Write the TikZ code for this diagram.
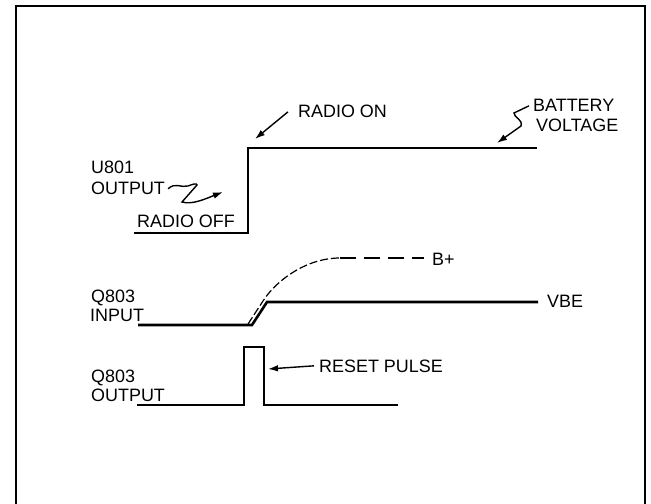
\documentclass[tikz,border=0pt]{standalone}
\usepackage{fontspec}
\setmainfont{Liberation Sans}
\usetikzlibrary{arrows.meta,positioning,calc}

\begin{document}
\begin{tikzpicture}[x=1bp,y=-1bp,
        signal/.style={line width=2.6bp,line join=miter},
        lbl/.style={inner sep=0pt,anchor=base west,font=\fontsize{18}{18}\selectfont},
        ptr/.style={line width=1.4bp,-{Latex[length=10bp,width=6.5bp]}}]
    \useasboundingbox (0,0) rectangle (651,504);
    \draw [line width=2.8bp] (16,504) -- (16,6) -- (645,6) -- (645,504);

    % U801 output
    \draw [signal] (134,233) -- (248,233) -- (248,148) -- (537,148);
    \node [lbl] (u801) at (91,174) {U801};
    \node [lbl] (u801out) at (91,195) {OUTPUT};
    \node [lbl] (off) at (137,228) {RADIO OFF};
    \node [lbl] (on) at (298,118) {RADIO ON};
    \node [lbl] (bat) at (533,112) {BATTERY};
    \node [lbl] (volt) at (536,132) {VOLTAGE};
    \coordinate (ontip) at (255,139);
    \coordinate (offtip) at (223,192);
    \coordinate (battip) at (497,143);
    \draw [ptr] ([xshift=-10bp]on.west) -- (ontip);
    \draw [ptr] ([xshift=-4bp]bat.west) -- (514,113)
        .. controls (514,118) and (523,119) .. (521,126) -- (battip);
    \draw [ptr] ([xshift=3bp]u801out.east) .. controls (175,182) and (181,188) .. (188,186)
        .. controls (193,184) and (197,183) .. (197,185) -- (182,202)
        .. controls (192,205) and (205,199) .. (offtip);

    % Q803 input
    \draw [signal] (138,325) -- (252,325) -- (267,302) -- (538,302);
    \draw [line width=1.2bp,dash pattern=on 8bp off 3bp] (248,324) -- (263,301)
        .. controls (275,282) and (305,258) .. (340,258);
    \draw [line width=1.6bp,dash pattern=on 16bp off 8bp] (340,258) -- (424,258);
    \node [lbl] (q803a) at (91,302) {Q803};
    \node [lbl] (q803in) at (90,321) {INPUT};
    \node [lbl] (bplus) at (432,265) {B+};
    \node [lbl] (vbe) at (547,307) {VBE};

    % Q803 output
    \draw [signal] (137,405) -- (244,405) -- (244,347) -- (264,347) -- (264,405) -- (398,405);
    \node [lbl] (q803b) at (91,382) {Q803};
    \node [lbl] (q803out) at (91,401) {OUTPUT};
    \node [lbl] (rst) at (319,372) {RESET PULSE};
    \coordinate (rsttip) at (268,369);
    \draw [ptr] ([xshift=-5bp]rst.west) -- (rsttip);
\end{tikzpicture}
\end{document}
